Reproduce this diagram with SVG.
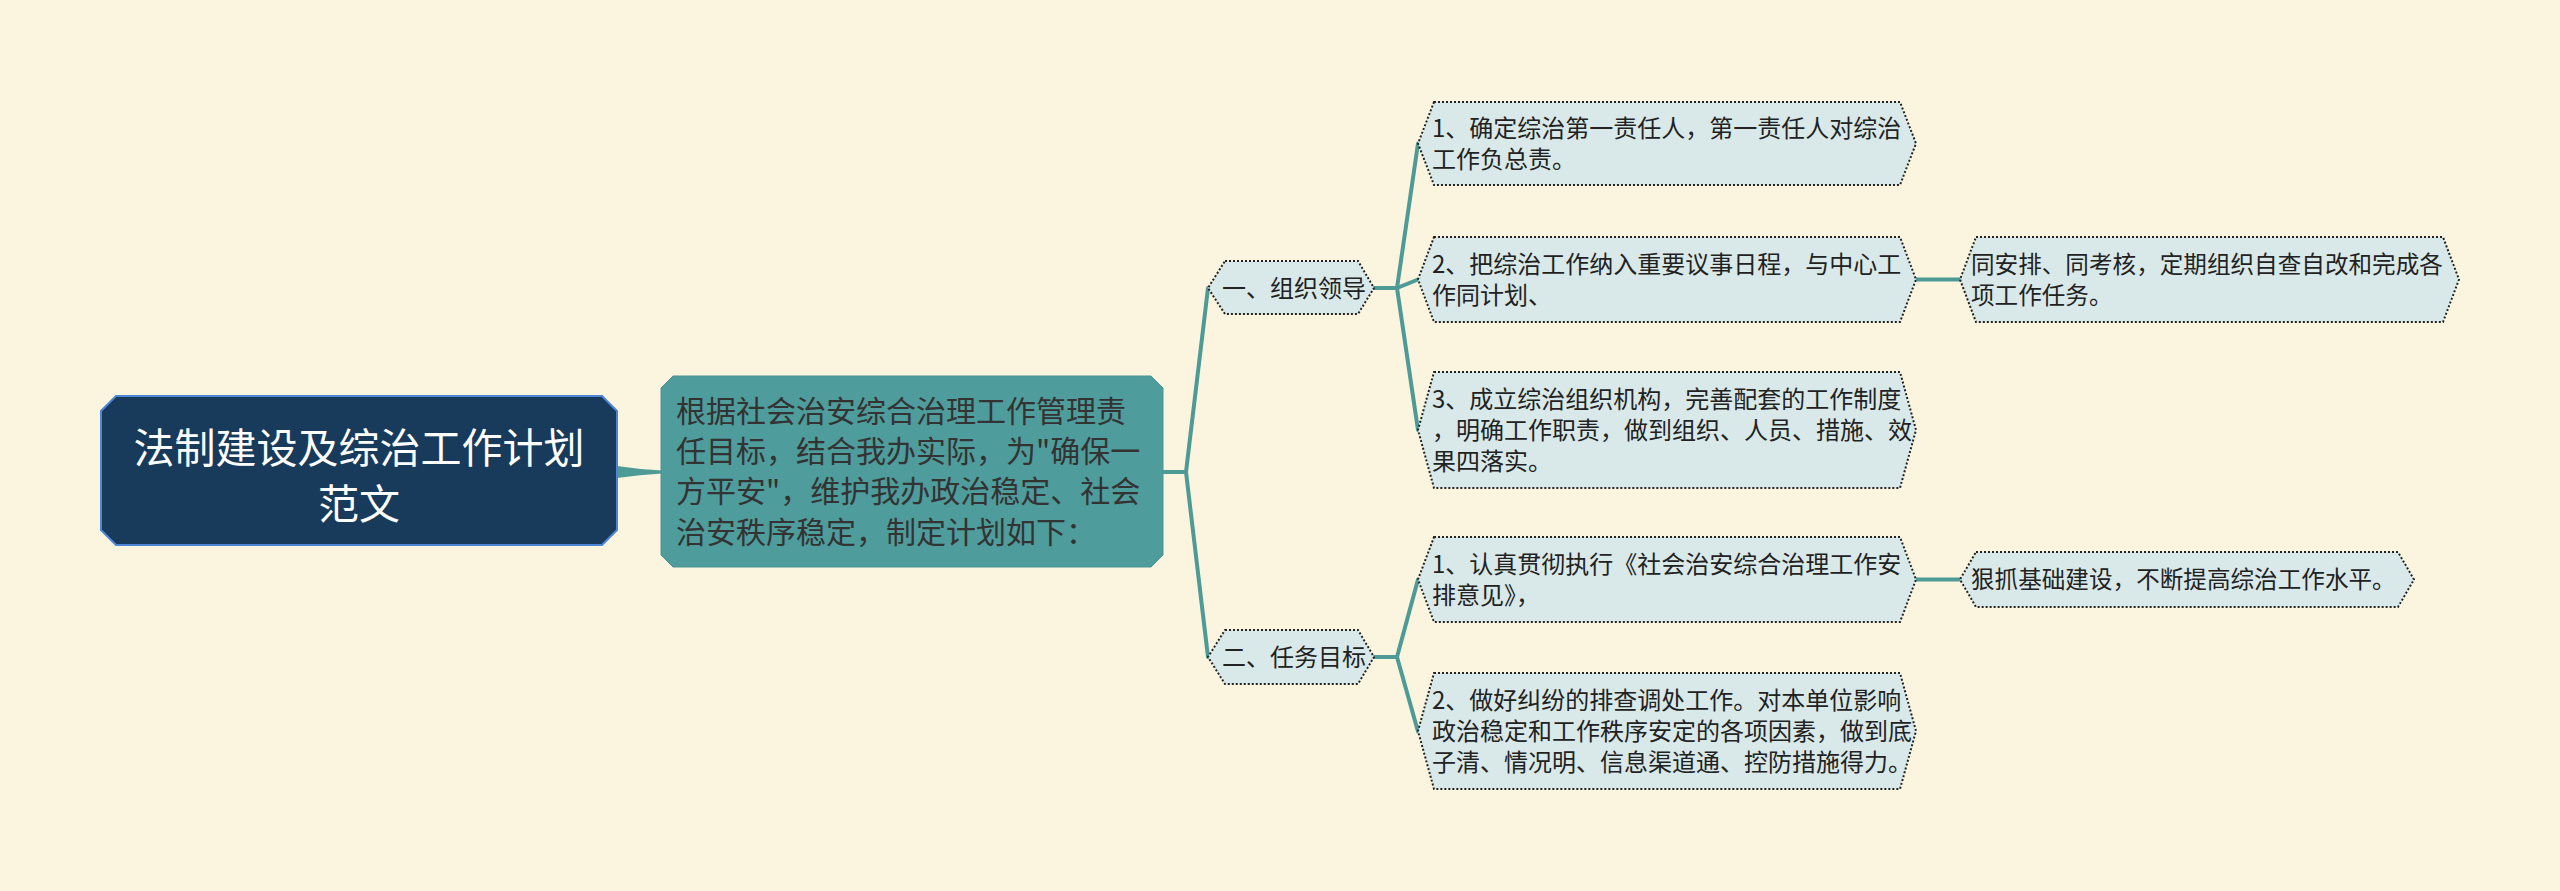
<svg xmlns="http://www.w3.org/2000/svg" width="2560" height="891" viewBox="0 0 2560 891">
<style>
text{font-family:"Noto Sans CJK SC","Noto Sans CJK JP",sans-serif;}
.root-t{font-size:41px;fill:#ffffff;text-anchor:middle;}
.main-t{font-size:30px;fill:#333333;}
.t{font-size:24px;fill:#222222;}
.t4{font-size:23.6px;fill:#222222;}
.hex{fill:#d9e9ea;stroke:#222222;stroke-width:2;stroke-dasharray:2 2;}
.conn{fill:none;stroke:#4e9a97;stroke-width:4;stroke-linecap:round;stroke-linejoin:round;}
</style>
<rect x="0" y="0" width="2560" height="891" fill="#fbf5e0"/>
<g id="connectors">
<path d="M617,466 Q640,469.5 662,470.5 L662,473.5 Q640,474.5 617,478 Z" fill="#4e9a97"/>
<path class="conn" d="M1163,472 L1186,472 M1186,472 L1208,288 M1186,472 L1208,657"/>
<path class="conn" d="M1374,288 L1397,288 M1397,288 L1418,143.5 M1397,288 L1418,279.5 M1397,288 L1418,430"/>
<path class="conn" d="M1374,657 L1397,657 M1397,657 L1418,579.5 M1397,657 L1418,731.5"/>
<path class="conn" d="M1916,279.5 L1960,279.5"/>
<path class="conn" d="M1916,579.5 L1960,579.5"/>
</g>
<g id="root">
<path d="M116,396 L602,396 L617,411 L617,530 L602,545 L116,545 L101,530 L101,411 Z" fill="#183b5b" stroke="#4d86d6" stroke-width="2"/>
<text class="root-t" x="359" y="463">法制建设及综治工作计划</text>
<text class="root-t" x="359" y="519">范文</text>
</g>
<g id="main">
<path d="M673,376 L1151,376 L1163,388 L1163,555 L1151,567 L673,567 L661,555 L661,388 Z" fill="#4e9c9b" stroke="#4a9593" stroke-width="1"/>
<text class="main-t" x="676" y="422">根据社会治安综合治理工作管理责</text>
<text class="main-t" x="676" y="462">任目标，结合我办实际，为"确保一</text>
<text class="main-t" x="676" y="502">方平安"，维护我办政治稳定、社会</text>
<text class="main-t" x="676" y="543">治安秩序稳定，制定计划如下：</text>
</g>
<g id="n1">
<path class="hex" d="M1225,261 L1358,261 L1374,288 L1358,314 L1225,314 L1208,288 Z"/>
<text class="t" x="1222" y="297">一、组织领导</text>
</g>
<g id="n2">
<path class="hex" d="M1225,630 L1358,630 L1374,657 L1358,684 L1225,684 L1208,657 Z"/>
<text class="t" x="1222" y="666">二、任务目标</text>
</g>
<g id="n1a">
<path class="hex" d="M1434,102 L1900,102 L1916,143.5 L1900,185 L1434,185 L1418,143.5 Z"/>
<text class="t" x="1432" y="137">1、确定综治第一责任人，第一责任人对综治</text>
<text class="t" x="1432" y="168">工作负总责。</text>
</g>
<g id="n1b">
<path class="hex" d="M1434,237 L1900,237 L1916,279.5 L1900,322 L1434,322 L1418,279.5 Z"/>
<text class="t" x="1432" y="273">2、把综治工作纳入重要议事日程，与中心工</text>
<text class="t" x="1432" y="304">作同计划、</text>
</g>
<g id="n1b1">
<path class="hex" d="M1976,237 L2443,237 L2459,279.5 L2443,322 L1976,322 L1960,279.5 Z"/>
<text class="t4" x="1971" y="273">同安排、同考核，定期组织自查自改和完成各</text>
<text class="t4" x="1971" y="304">项工作任务。</text>
</g>
<g id="n1c">
<path class="hex" d="M1434,372 L1900,372 L1916,430 L1900,488 L1434,488 L1418,430 Z"/>
<text class="t" x="1432" y="408">3、成立综治组织机构，完善配套的工作制度</text>
<text class="t" x="1432" y="439">，明确工作职责，做到组织、人员、措施、效</text>
<text class="t" x="1432" y="470">果四落实。</text>
</g>
<g id="n2a">
<path class="hex" d="M1434,537 L1900,537 L1916,579.5 L1900,622 L1434,622 L1418,579.5 Z"/>
<text class="t" x="1432" y="573">1、认真贯彻执行《社会治安综合治理工作安</text>
<text class="t" x="1432" y="604">排意见》，</text>
</g>
<g id="n2a1">
<path class="hex" d="M1976,552 L2398,552 L2414,579.5 L2398,607 L1976,607 L1960,579.5 Z"/>
<text class="t4" x="1971" y="588">狠抓基础建设，不断提高综治工作水平。</text>
</g>
<g id="n2b">
<path class="hex" d="M1434,673 L1900,673 L1916,731 L1900,789 L1434,789 L1418,731 Z"/>
<text class="t" x="1432" y="709">2、做好纠纷的排查调处工作。对本单位影响</text>
<text class="t" x="1432" y="740">政治稳定和工作秩序安定的各项因素，做到底</text>
<text class="t" x="1432" y="771">子清、情况明、信息渠道通、控防措施得力。</text>
</g>
</svg>
